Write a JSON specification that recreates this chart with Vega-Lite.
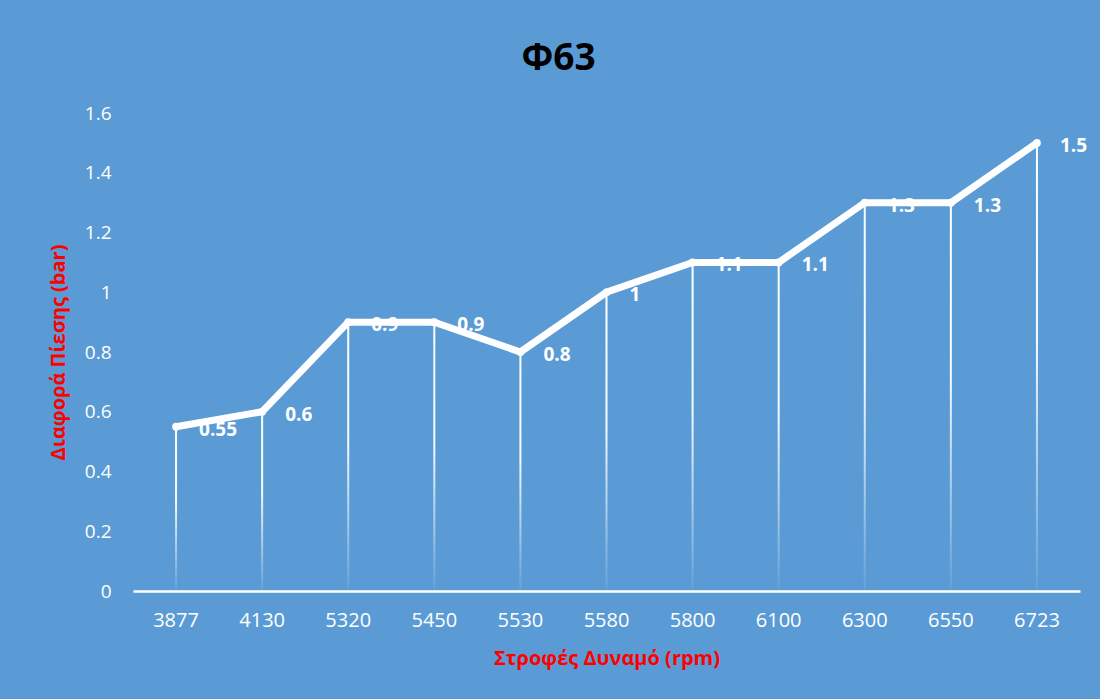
{
  "$schema": "https://vega.github.io/schema/vega-lite/v6.json",
  "autosize": {"type": "none"},
  "width": 947,
  "height": 478,
  "padding": {"left": 133, "top": 113, "right": 20, "bottom": 108},
  "background": "#5B9BD5",
  "config": {
    "view": {"stroke": null},
    "font": "Open Sans"
  },
  "title": {
    "text": "Φ63",
    "font": "Open Sans",
    "fontSize": 37,
    "fontWeight": "bold",
    "color": "#000000",
    "anchor": "middle",
    "baseline": "alphabetic",
    "offset": 41,
    "dx": -48,
    "dy": 44
  },
  "data": {
    "values": [
      {"rpm": "3877", "dp": 0.55},
      {"rpm": "4130", "dp": 0.6},
      {"rpm": "5320", "dp": 0.9},
      {"rpm": "5450", "dp": 0.9},
      {"rpm": "5530", "dp": 0.8},
      {"rpm": "5580", "dp": 1.0},
      {"rpm": "5800", "dp": 1.1},
      {"rpm": "6100", "dp": 1.1},
      {"rpm": "6300", "dp": 1.3},
      {"rpm": "6550", "dp": 1.3},
      {"rpm": "6723", "dp": 1.5}
    ]
  },
  "encoding": {
    "x": {
      "field": "rpm",
      "type": "ordinal",
      "sort": null,
      "scale": {"type": "band", "paddingInner": 0, "paddingOuter": 0},
      "axis": {
        "title": "Στροφές Δυναμό (rpm)",
        "titleColor": "#FF0000",
        "titleFont": "Open Sans",
        "titleFontSize": 20,
        "titleFontWeight": "bold",
        "titlePadding": 18,
        "labelColor": "#FFFFFF",
        "labelFont": "Open Sans",
        "labelFontSize": 20,
        "labelAngle": 0,
        "labelPadding": 19,
        "ticks": false,
        "grid": false,
        "domainColor": "#FFFFFF",
        "domainWidth": 2.5
      }
    },
    "y": {
      "field": "dp",
      "type": "quantitative",
      "scale": {"domain": [0, 1.6], "nice": false},
      "axis": {
        "title": "Διαφορά Πίεσης (bar)",
        "titleColor": "#FF0000",
        "titleFont": "Open Sans",
        "titleFontSize": 20,
        "titleFontWeight": "bold",
        "titlePadding": 16,
        "values": [0, 0.2, 0.4, 0.6, 0.8, 1, 1.2, 1.4, 1.6],
        "format": "~g",
        "labelColor": "#FFFFFF",
        "labelFont": "Open Sans",
        "labelFontSize": 19,
        "labelPadding": 22,
        "ticks": false,
        "grid": false,
        "domain": false
      }
    }
  },
  "layer": [
    {
      "mark": {
        "type": "bar",
        "width": 2,
        "fill": {
          "gradient": "linear",
          "x1": 0, "y1": 0, "x2": 0, "y2": 1,
          "stops": [
            {"offset": 0, "color": "rgba(255,255,255,1)"},
            {"offset": 0.45, "color": "rgba(255,255,255,0.95)"},
            {"offset": 1, "color": "rgba(255,255,255,0.05)"}
          ]
        }
      }
    },
    {
      "mark": {"type": "line", "color": "#FFFFFF", "strokeWidth": 7, "strokeJoin": "miter", "strokeCap": "butt"}
    },
    {
      "mark": {"type": "point", "filled": true, "color": "#FFFFFF", "size": 60, "opacity": 1}
    },
    {
      "mark": {
        "type": "text",
        "align": "left",
        "baseline": "middle",
        "dx": 23,
        "dy": 3,
        "font": "Open Sans",
        "fontSize": 19,
        "fontWeight": "bold",
        "color": "#FFFFFF"
      },
      "encoding": {
        "text": {"field": "dp", "type": "quantitative", "format": "~g"}
      }
    }
  ]
}
